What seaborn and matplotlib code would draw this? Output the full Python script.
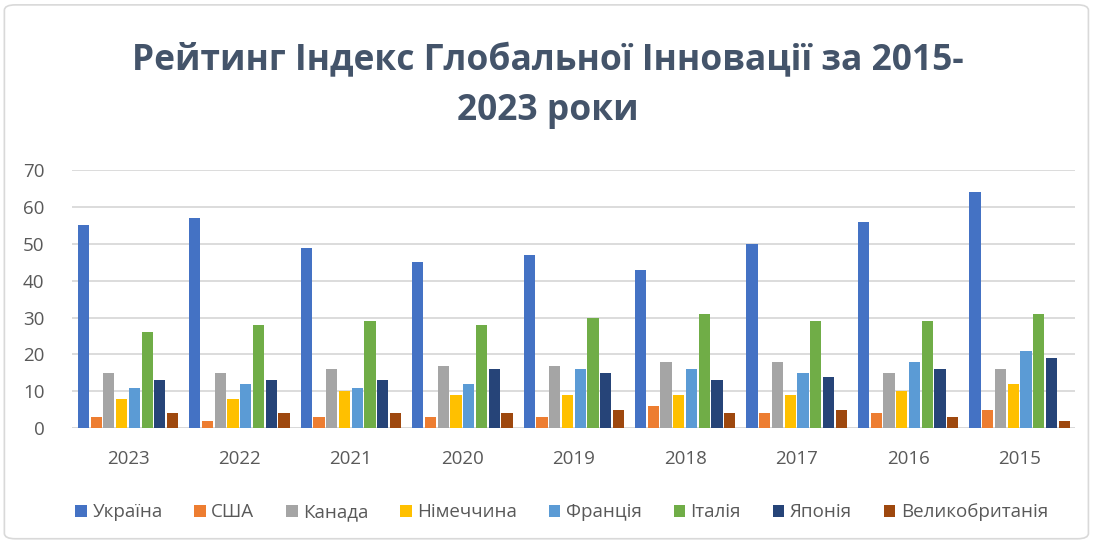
"""
Global Innovation Index ranking chart, 2015-2023
"""

import matplotlib
matplotlib.use('Agg')
import matplotlib.pyplot as plt
from matplotlib.patches import FancyBboxPatch
import pandas as pd
import seaborn as sns

years = ['2023', '2022', '2021', '2020', '2019', '2018', '2017', '2016', '2015']
countries = ['Україна', 'США', 'Канада', 'Німеччина', 'Франція', 'Італія', 'Японія', 'Великобританія']

ukraine = [55, 57, 49, 45, 47, 43, 50, 56, 64]
usa = [3, 2, 3, 3, 3, 6, 4, 4, 5]
canada = [15, 15, 16, 17, 17, 18, 18, 15, 16]
germany = [8, 8, 10, 9, 9, 9, 9, 10, 12]
france = [11, 12, 11, 12, 16, 16, 15, 18, 21]
italy = [26, 28, 29, 28, 30, 31, 29, 29, 31]
japan = [13, 13, 13, 16, 15, 13, 14, 16, 19]
uk = [4, 4, 4, 4, 5, 4, 5, 3, 2]

colors = ['#4472C4', '#ED7D31', '#A5A5A5', '#FFC000', '#5B9BD5', '#70AD47', '#264478', '#9E480E']

# Build long table
series = [ukraine, usa, canada, germany, france, italy, japan, uk]
rows = []
for country, vals in zip(countries, series):
    for y, v in zip(years, vals):
        rows.append({'year': y, 'country': country, 'value': v})
df = pd.DataFrame(rows)

sns.set_style('white')
plt.rcParams['font.family'] = ['Open Sans', 'DejaVu Sans']

fig = plt.figure(figsize=(10.95, 5.42), dpi=100)

# Chart border
border = FancyBboxPatch((0.004, 0.006), 0.99, 0.985, boxstyle='round,pad=0,rounding_size=0.01',
                        transform=fig.transFigure, facecolor='none', edgecolor='#D9D9D9',
                        linewidth=1.2, zorder=-1)
fig.patches.append(border)

ax = fig.add_axes([0.066, 0.21, 0.916, 0.476])
sns.barplot(data=df, x='year', y='value', hue='country', order=years, hue_order=countries,
            palette=colors, saturation=1, width=0.915, gap=0.12, linewidth=0,
            ax=ax, legend=True)

ax.set_ylim(0, 70)
ax.set_yticks(range(0, 71, 10))
ax.yaxis.grid(True, color='#D9D9D9', linewidth=1.3)
ax.set_axisbelow(True)
for s in ax.spines.values():
    s.set_visible(False)
ax.axhline(0, color='#D9D9D9', linewidth=1.3, zorder=0.5)
ax.set_xlabel('')
ax.set_ylabel('')
ax.tick_params(axis='both', length=0, labelsize=13.5, colors='#595959')
ax.tick_params(axis='x', pad=16)
ax.tick_params(axis='y', pad=20)
ax.set_xlim(-0.5, len(years) - 0.5)

fig.text(0.5, 0.886, 'Рейтинг Індекс Глобальної Інновації за 2015-', ha='center', va='center',
         fontsize=25.5, fontweight='bold', color='#44546A')
fig.text(0.5, 0.795, '2023 роки', ha='center', va='center',
         fontsize=25.5, fontweight='bold', color='#44546A')

handles, labels = ax.get_legend_handles_labels()
ax.get_legend().remove()
fig.legend(handles, labels, loc='center', bbox_to_anchor=(0.513, 0.055), ncol=8, frameon=False,
           fontsize=13.5, handlelength=0.6, handleheight=0.6, handletextpad=0.3,
           columnspacing=1.7, labelcolor='#595959')

fig.savefig('out.png', dpi=100)
